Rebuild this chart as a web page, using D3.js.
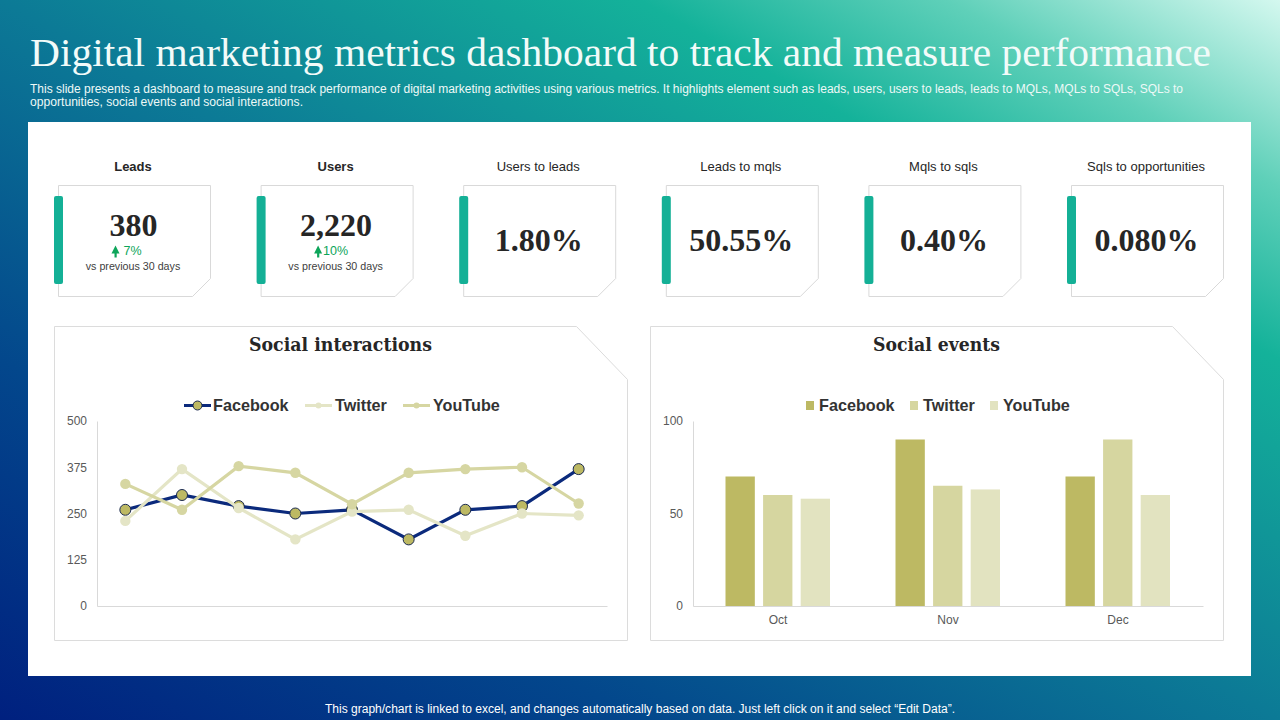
<!DOCTYPE html>
<html>
<head>
<meta charset="utf-8">
<script src="https://cdn.jsdelivr.net/npm/d3@7"></script>
<style>
    html, body { margin: 0; padding: 0; background: #fff; }
    svg { display: block; }
    text { font-family: "Liberation Sans", Arial, sans-serif; }
    .serif { font-family: "Liberation Serif", Georgia, serif; }
    .serif-wide { font-family: "DejaVu Serif", Georgia, serif; }
    .axis path, .axis line { stroke: #d9d9d9; }
    .axis text { font-size: 12px; fill: #595959; }
</style>
</head>
<body>
<svg id="slide" width="1280" height="720"></svg>
<script>
    var titleText = "Digital marketing metrics dashboard to track and measure performance";
    var subtitleLines = [
        "This slide presents a dashboard to measure and track performance of digital marketing activities using various metrics. It highlights element such as leads, users, users to leads, leads to MQLs, MQLs to SQLs, SQLs to",
        "opportunities, social events and social interactions."
    ];
    var footerText = "This graph/chart is linked to excel, and changes automatically based on data. Just left click on it and select \u201cEdit Data\u201d.";

    var kpiNames = ["Leads", "Users", "Users to leads", "Leads to mqls", "Mqls to sqls", "Sqls to opportunities"];
    var kpiValues = ["380", "2,220", "1.80%", "50.55%", "0.40%", "0.080%"];
    var kpiChanges = ["7%", "10%", null, null, null, null];

    var seriesNames = ["Facebook", "Twitter", "YouTube"];

    var lineFacebook = [260, 300, 270, 250, 260, 180, 260, 270, 370];
    var lineTwitter = [230, 370, 265, 180, 255, 260, 190, 250, 245];
    var lineYouTube = [330, 260, 378, 360, 275, 360, 370, 375, 277];
    var lineTicks = [0, 125, 250, 375, 500];

    var months = ["Oct", "Nov", "Dec"];
    var barFacebook = [70, 90, 70];
    var barTwitter = [60, 65, 90];
    var barYouTube = [58, 63, 60];
    var barTicks = [0, 50, 100];

    var barColors = ["#bdb963", "#d6d6a0", "#e2e3c0"];
    var lineColors = ["#0b2a7c", "#e4e5c6", "#d6d6a2"];
    var inkDark = "#262626";

    var svg = d3.select("#slide");

    // background
    var grad = svg.append("defs").append("linearGradient").attr("id", "bg")
        .attr("x1", 0).attr("y1", 1).attr("x2", 1).attr("y2", 0);
    [[0, "#00207f"], [0.25, "#03478c"], [0.5, "#0c7a96"], [0.75, "#14b29a"], [0.87, "#5fd0b9"], [1, "#d4f8ef"]].forEach(function(s) {
        grad.append("stop").attr("offset", s[0]).attr("stop-color", s[1]);
    });
    svg.append("rect").attr("width", 1280).attr("height", 720).attr("fill", "url(#bg)");
    svg.append("rect").attr("x", 28).attr("y", 122).attr("width", 1223).attr("height", 554).attr("fill", "#fff");

    // header + footer
    svg.append("text").attr("class", "serif").attr("x", 30).attr("y", 66)
        .attr("textLength", 1181).attr("lengthAdjust", "spacingAndGlyphs")
        .style("font-size", "40px").attr("fill", "#f2fbf9").text(titleText);
    svg.selectAll(".sub").data(subtitleLines).enter().append("text").attr("class", "sub")
        .attr("x", 30).attr("y", function(d, i) { return 93 + i * 13; })
        .attr("textLength", function(d, i) { return i === 0 ? 1153 : 273; })
        .attr("lengthAdjust", "spacingAndGlyphs")
        .style("font-size", "12px").attr("fill", "#eef9f7").text(function(d) { return d; });
    svg.append("text").attr("x", 640).attr("y", 713).attr("text-anchor", "middle")
        .attr("textLength", 630).attr("lengthAdjust", "spacingAndGlyphs")
        .style("font-size", "12px").attr("fill", "#fff").text(footerText);

    // kpi cards
    var cardX = d3.scalePoint().domain(d3.range(kpiNames.length)).range([58.5, 1071.5]);
    var cards = svg.selectAll(".card").data(kpiNames).enter().append("g").attr("class", "card")
        .attr("transform", function(d, i) { return "translate(" + cardX(i) + ",185.5)"; });
    cards.append("path").attr("d", "M0,0H152V93L134,111H0Z").attr("fill", "#fff").attr("stroke", "#d9d9d9");
    cards.append("rect").attr("x", -4.5).attr("y", 10.5).attr("width", 9).attr("height", 88).attr("rx", 2).attr("fill", "#14b096");
    cards.append("text").attr("x", 74.5).attr("y", -15).attr("text-anchor", "middle")
        .style("font-size", "13px").style("font-weight", function(d, i) { return i < 2 ? "bold" : "normal"; })
        .attr("fill", inkDark).text(function(d) { return d; });
    cards.append("text").attr("class", "serif").attr("x", 75).attr("text-anchor", "middle")
        .attr("y", function(d, i) { return kpiChanges[i] ? 50 : 65; })
        .style("font-size", "32px").style("font-weight", "bold")
        .attr("fill", inkDark).text(function(d, i) { return kpiValues[i]; });
    var growth = cards.filter(function(d, i) { return kpiChanges[i]; });
    growth.append("path").attr("d", "M57,60L61,68H58.2V72H56V68H53Z").attr("fill", "#0da55a");
    growth.append("text")
        .attr("x", function(d) { return d === "Users" ? 62 : 65; })
        .attr("y", 69.5).style("font-size", "12.5px").attr("fill", "#0da55a")
        .text(function(d) { return kpiChanges[kpiNames.indexOf(d)]; });
    growth.append("text").attr("x", 74.5).attr("y", 84).attr("text-anchor", "middle")
        .style("font-size", "10.7px").attr("fill", "#404040").text("vs previous 30 days");

    // panels
    function panel(x, title, titleWidth) {
        var g = svg.append("g").attr("transform", "translate(" + x + ",326.5)");
        g.append("path").attr("d", "M0,0H522L573,53V314H0Z").attr("fill", "#fff").attr("stroke", "#dcdcdc");
        g.append("text").attr("class", "serif-wide").attr("x", 286).attr("y", 24).attr("text-anchor", "middle")
            .attr("textLength", titleWidth).attr("lengthAdjust", "spacingAndGlyphs")
            .style("font-size", "18px").style("font-weight", "bold").attr("fill", inkDark).text(title);
        return g;
    }
    panel(54.5, "Social interactions", 183);
    panel(650.5, "Social events", 127);

    function legendText(x, label) {
        svg.append("text").attr("x", x).attr("y", 411).style("font-size", "16.2px")
            .style("font-weight", "bold").attr("fill", "#333").text(label);
    }

    // line chart
    var bandLine = d3.scaleBand().domain(d3.range(lineFacebook.length)).range([97, 607]);
    var yLine = d3.scaleLinear().domain([0, 500]).range([606, 421]);
    svg.append("g").attr("class", "axis").attr("transform", "translate(97,0)")
        .call(d3.axisLeft(yLine).tickValues(lineTicks).tickSize(0).tickPadding(10));
    svg.append("g").attr("class", "axis").attr("transform", "translate(0,606)")
        .call(d3.axisBottom(bandLine).tickValues([]).tickSize(0));

    var lineGen = d3.line()
        .x(function(d, i) { return bandLine(i) + bandLine.bandwidth() / 2; })
        .y(function(d) { return yLine(d); });
    var lineSeries = [lineFacebook, lineTwitter, lineYouTube];
    lineSeries.forEach(function(values, k) {
        svg.append("path").datum(values).attr("fill", "none")
            .attr("stroke", lineColors[k]).attr("stroke-width", 3.2).attr("d", lineGen);
        svg.selectAll(".dot" + k).data(values).enter().append("circle").attr("class", "dot" + k)
            .attr("cx", function(d, i) { return bandLine(i) + bandLine.bandwidth() / 2; })
            .attr("cy", function(d) { return yLine(d); })
            .attr("r", k === 0 ? 5.5 : 5.2)
            .attr("fill", k === 0 ? barColors[0] : lineColors[k])
            .attr("stroke", k === 0 ? "#1b2a50" : "none");
    });

    // line legend
    var legendLineX = [184, 305, 403];
    var legendLineText = [213, 335, 433];
    seriesNames.forEach(function(name, k) {
        svg.append("line").attr("x1", legendLineX[k]).attr("x2", legendLineX[k] + 27)
            .attr("y1", 405.5).attr("y2", 405.5).attr("stroke", lineColors[k]).attr("stroke-width", 3);
        svg.append("circle").attr("cx", legendLineX[k] + 13.5).attr("cy", 405.5).attr("r", k === 0 ? 4.5 : 3)
            .attr("fill", k === 0 ? barColors[0] : lineColors[k]).attr("stroke", k === 0 ? "#1b2a50" : "none");
        legendText(legendLineText[k], name);
    });

    // bar chart
    var xBar = d3.scaleBand().domain(months).range([693, 1203]);
    var xInner = d3.scaleBand().domain(d3.range(3)).range([32.5, 137]).paddingInner(0.22);
    var yBar = d3.scaleLinear().domain([0, 100]).range([606, 421]);
    var barSeries = [barFacebook, barTwitter, barYouTube];
    barSeries.forEach(function(values, k) {
        svg.selectAll(".bar" + k).data(values).enter().append("rect").attr("class", "bar" + k)
            .attr("x", function(d, i) { return xBar(months[i]) + xInner(k); })
            .attr("width", xInner.bandwidth())
            .attr("y", function(d) { return yBar(d); })
            .attr("height", function(d) { return yBar(0) - yBar(d); })
            .attr("fill", barColors[k]);
    });
    svg.append("g").attr("class", "axis").attr("transform", "translate(693,0)")
        .call(d3.axisLeft(yBar).tickValues(barTicks).tickSize(0).tickPadding(10));
    svg.append("g").attr("class", "axis").attr("transform", "translate(0,606)")
        .call(d3.axisBottom(xBar).tickSize(0).tickPadding(9));

    // bar legend
    var legendBarX = [806, 910, 990];
    seriesNames.forEach(function(name, k) {
        svg.append("rect").attr("x", legendBarX[k]).attr("y", 401).attr("width", 8).attr("height", 9).attr("fill", barColors[k]);
        legendText(legendBarX[k] + 13, name);
    });
</script>
</body>
</html>
